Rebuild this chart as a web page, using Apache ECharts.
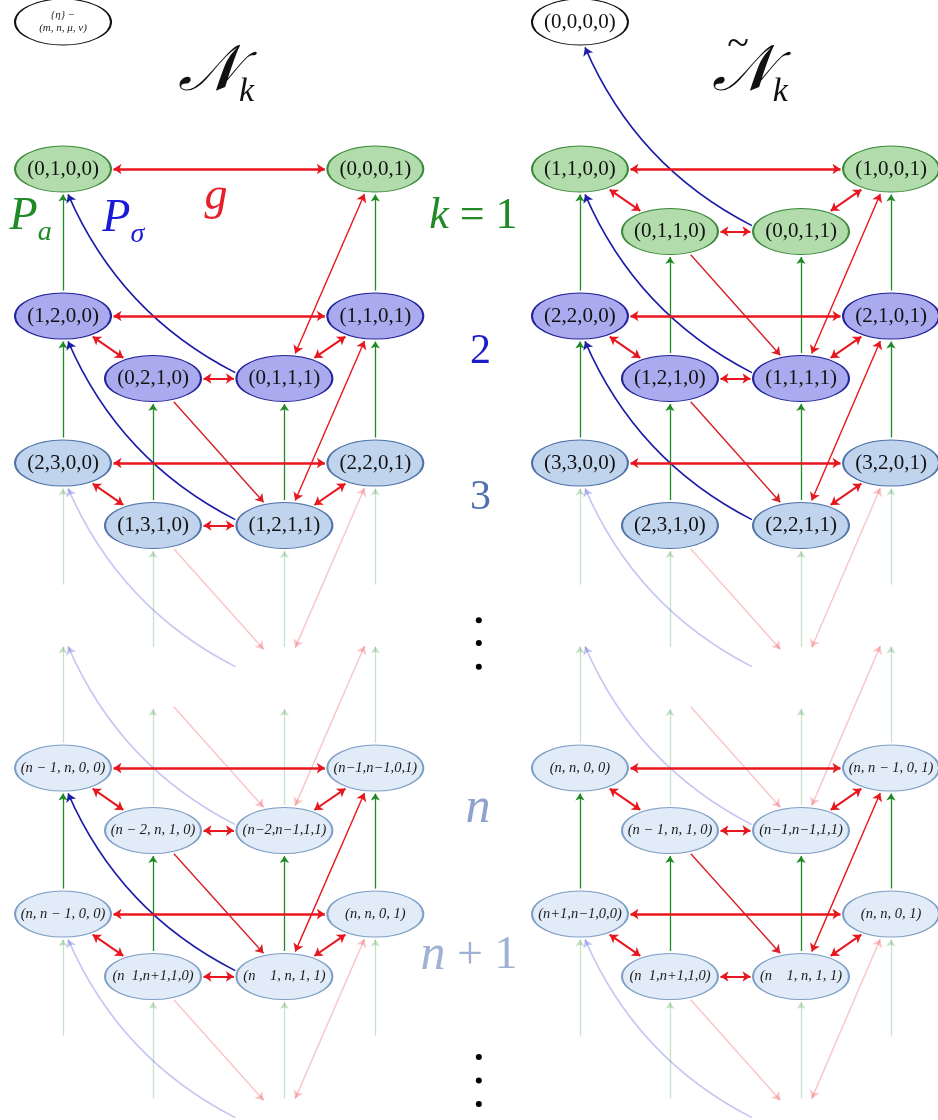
<!DOCTYPE html>
<html><head><meta charset="utf-8">
<script src="https://cdn.jsdelivr.net/npm/echarts@6/dist/echarts.min.js"></script>
<style>html,body{margin:0;padding:0;background:#fff}#chart{width:938px;height:1120px}</style>
</head><body><div id="chart"></div>
<script>
// ---------------- data ----------------
// column positions (abstract layout units) for the two panels
const COLS_LEFT = [0, 1, 2.46, 3.47];
const COLS_RIGHT = [5.744, 6.744, 8.2, 9.2];
// row levels (k = 0,1,2,3, ghost 4, ghost n-1, n, n+1, ghost n+2)
const ROW_LEVELS = { '0': 0, '1': 1, '2': 2, '3': 3, '4': 4, 'm': 4.075, 'n': 5.075, 'p': 6.068, 'q': 7.068 };
const INNER_DROP = 0.425;
const COL_KEYS = ['a', 'b', 'c', 'd'];

const LEFT_NODES = {
  '1': ['(0,1,0,0)', null, null, '(0,0,0,1)'],
  '2': ['(1,2,0,0)', '(0,2,1,0)', '(0,1,1,1)', '(1,1,0,1)'],
  '3': ['(2,3,0,0)', '(1,3,1,0)', '(1,2,1,1)', '(2,2,0,1)'],
  'n': ['(n − 1, n, 0, 0)', '(n − 2, n, 1, 0)', '(n−2,n−1,1,1)', '(n−1,n−1,0,1)'],
  'p': ['(n, n − 1, 0, 0)', '(n  1,n+1,1,0)', '(n    1, n, 1, 1)', '(n, n, 0, 1)']
};
const RIGHT_NODES = {
  '0': ['(0,0,0,0)', null, null, null],
  '1': ['(1,1,0,0)', '(0,1,1,0)', '(0,0,1,1)', '(1,0,0,1)'],
  '2': ['(2,2,0,0)', '(1,2,1,0)', '(1,1,1,1)', '(2,1,0,1)'],
  '3': ['(3,3,0,0)', '(2,3,1,0)', '(2,2,1,1)', '(3,2,0,1)'],
  'n': ['(n, n, 0, 0)', '(n − 1, n, 1, 0)', '(n−1,n−1,1,1)', '(n, n − 1, 0, 1)'],
  'p': ['(n+1,n−1,0,0)', '(n  1,n+1,1,0)', '(n    1, n, 1, 1)', '(n, n, 0, 1)']
};
const LEGEND_NODE = '{η} −\n(m, n, μ, ν)';
const GHOST_ROWS = ['4', 'm', 'q'];

// P_a (green, vertical): [lowerRow, upperRow, columns]
const PA_EDGES = {
  L: [['2', '1', 'ad'], ['3', '2', 'abcd'], ['4', '3', 'abcd'], ['n', 'm', 'abcd'], ['p', 'n', 'abcd'], ['q', 'p', 'abcd']],
  R: [['2', '1', 'abcd'], ['3', '2', 'abcd'], ['4', '3', 'abcd'], ['n', 'm', 'abcd'], ['p', 'n', 'abcd'], ['q', 'p', 'abcd']]
};
// P_sigma (blue curves): inner-right of row r1  ->  outer-left of row r2
const PSIGMA_EDGES = {
  L: [['2', '1'], ['3', '2'], ['4', '3'], ['n', 'm'], ['p', 'n'], ['q', 'p']],
  R: [['1', '0'], ['2', '1'], ['3', '2'], ['4', '3'], ['n', 'm'], ['q', 'p']]
};
// g (red) couplings
const G_OUTER = { L: ['1', '2', '3', 'n', 'p'], R: ['1', '2', '3', 'n', 'p'] };        // a <-> d
const G_LEFT_DIAG = { L: ['2', '3', 'n', 'p'], R: ['1', '2', 'n', 'p'] };             // a <-> b
const G_INNER = { L: ['2', '3', 'n', 'p'], R: ['1', '2', 'n', 'p'] };                 // b <-> c
const G_RIGHT_DIAG = { L: ['2', '3', 'n', 'p'], R: ['1', '2', '3', 'n', 'p'] };       // c <-> d
const G_CROSS = { // b of row r1  ->  c of row r2
  L: [['2', '3'], ['3', '4'], ['m', 'n'], ['n', 'p'], ['p', 'q']],
  R: [['1', '2'], ['2', '3'], ['3', '4'], ['m', 'n'], ['n', 'p'], ['p', 'q']]
};
const G_LONG = { // c of row r1  <->  d of row r2
  L: [['2', '1'], ['3', '2'], ['4', '3'], ['n', 'm'], ['p', 'n'], ['q', 'p']],
  R: [['2', '1'], ['3', '2'], ['4', '3'], ['n', 'm'], ['p', 'n'], ['q', 'p']]
};

// ---------------- layout / style ----------------
const SERIF = "'Liberation Serif','DejaVu Serif',serif";
const ROW_STYLE = {
  '0': { fill: '#ffffff', stroke: '#111111' },
  '1': { fill: '#b3dcac', stroke: '#3b8a3b' },
  '2': { fill: '#aaabee', stroke: '#22229a' },
  '3': { fill: '#c0d4ee', stroke: '#4f72a8' },
  'n': { fill: '#e2ecf8', stroke: '#7f9fc6' },
  'p': { fill: '#e2ecf8', stroke: '#7f9fc6' }
};
const GREEN = '#1f8a26', GREEN_F = 'rgba(31,138,38,0.25)';
const BLUE = '#1c1ca8', BLUE_F = 'rgba(50,50,210,0.28)';
const RED = '#e8161e', RED_F = 'rgba(232,22,30,0.25)';
const ELLIPSE = 'path://M0 25A50 25 0 1 1 100 25A50 25 0 1 1 0 25Z';
const RX = 48, RY = 23, GAP = 2.5;

const COLS = { L: COLS_LEFT, R: COLS_RIGHT };
const NODES = {};
function addPanel(panel, rows) {
  Object.keys(rows).forEach(r => rows[r].forEach((lab, ci) => {
    if (lab === null) return;
    NODES[panel + r + COL_KEYS[ci]] = { row: r, label: lab, ghost: false,
      x: COLS[panel][ci], y: ROW_LEVELS[r] + ((ci === 1 || ci === 2) ? INNER_DROP : 0) };
  }));
  GHOST_ROWS.forEach(r => COL_KEYS.forEach((k, ci) => {
    NODES[panel + r + k] = { row: r, ghost: true,
      x: COLS[panel][ci], y: ROW_LEVELS[r] + ((ci === 1 || ci === 2) ? INNER_DROP : 0) };
  }));
}
addPanel('L', LEFT_NODES);
addPanel('R', RIGHT_NODES);
NODES['L0a'] = { row: '0', label: LEGEND_NODE, ghost: false, legend: true, x: COLS_LEFT[0], y: ROW_LEVELS['0'] };

const nodeData = Object.keys(NODES).filter(id => !NODES[id].ghost).map(id => {
  const n = NODES[id];
  const st = ROW_STYLE[n.row];
  const small = (n.row === 'n' || n.row === 'p');
  return {
    name: n.label, value: [n.x, n.y],
    itemStyle: { color: st.fill, borderColor: st.stroke, borderWidth: 1.4, opacity: 1 },
    label: n.legend ? { fontSize: 11, fontStyle: 'italic', lineHeight: 13, color: '#222' }
      : small ? { fontSize: 14.5, fontStyle: 'italic', color: '#1a1a1a' }
      : { fontSize: 21, color: '#111' }
  };
});

// annotations: [richText, x, y]
const ANNOT = [
  ['{m|𝒩}{s|k}', 1.70, 0.36],
  ['{m|𝒩}{s|k}', 7.63, 0.36],
  ['{t|~}', 7.50, 0.16],
  ['{pg|P}{sg|a}', -0.36, 1.35],
  ['{pb|P}{sb|σ}', 0.67, 1.36],
  ['{r|g}', 1.70, 1.19],
  ['{gk|k}{gn| = 1}', 4.56, 1.32],
  ['{b2|2}', 4.64, 2.245],
  ['{b3|3}', 4.64, 3.24],
  ['{ln|n}', 4.61, 5.35],
  ['{ln2|n}{lp| + 1}', 4.51, 6.35]
];
const DOTS = [[4.62, 4.07], [4.62, 4.225], [4.62, 4.385], [4.62, 7.04], [4.62, 7.2], [4.62, 7.36]];

const RICH = {
  m: { fontFamily: SERIF, fontSize: 64, fontStyle: 'italic', color: '#111', verticalAlign: 'bottom', padding: [0, 0, 4, 0] },
  s: { fontFamily: SERIF, fontSize: 34, fontStyle: 'italic', color: '#111', verticalAlign: 'bottom' },
  t: { fontFamily: SERIF, fontSize: 40, color: '#111' },
  pg: { fontFamily: SERIF, fontSize: 46, fontStyle: 'italic', color: GREEN, verticalAlign: 'bottom', padding: [0, 0, 7, 0] },
  sg: { fontFamily: SERIF, fontSize: 28, fontStyle: 'italic', color: GREEN, verticalAlign: 'bottom' },
  pb: { fontFamily: SERIF, fontSize: 46, fontStyle: 'italic', color: '#1a1ad8', verticalAlign: 'bottom', padding: [0, 0, 7, 0] },
  sb: { fontFamily: SERIF, fontSize: 28, fontStyle: 'italic', color: '#1a1ad8', verticalAlign: 'bottom' },
  r: { fontFamily: SERIF, fontSize: 46, fontStyle: 'italic', color: '#e5202a' },
  gk: { fontFamily: SERIF, fontSize: 44, fontStyle: 'italic', color: GREEN },
  gn: { fontFamily: SERIF, fontSize: 44, color: GREEN },
  b2: { fontFamily: SERIF, fontSize: 42, color: '#1c1cc8' },
  b3: { fontFamily: SERIF, fontSize: 42, color: '#4f70b0' },
  ln: { fontFamily: SERIF, fontSize: 50, fontStyle: 'italic', color: '#8ea2cc' },
  ln2: { fontFamily: SERIF, fontSize: 50, fontStyle: 'italic', color: '#a0b2d4' },
  lp: { fontFamily: SERIF, fontSize: 46, color: '#a0b2d4' }
};

const chart = echarts.init(document.getElementById('chart'), null, { renderer: 'canvas' });
const baseOption = {
  animation: false,
  backgroundColor: '#ffffff',
  grid: { left: 0, right: 0, top: 0, bottom: 0 },
  xAxis: { type: 'value', min: -0.7, max: 9.722, show: false },
  yAxis: { type: 'value', inverse: true, min: -0.1497, max: 7.469, show: false },
  series: [
    { id: 'nodes', type: 'scatter', z: 5, symbol: ELLIPSE, symbolSize: [96, 46], clip: false,
      itemStyle: { opacity: 1 },
      label: { show: true, position: 'inside', fontFamily: SERIF, formatter: p => p.name },
      data: nodeData },
    { id: 'annot', type: 'scatter', z: 6, symbolSize: 1, clip: false,
      itemStyle: { color: 'rgba(0,0,0,0)', opacity: 1 },
      label: { show: true, position: 'inside', rich: RICH, opacity: 1, formatter: p => p.data.txt },
      data: ANNOT.map(a => ({ value: [a[1], a[2]], txt: a[0] })) },
    { id: 'dots', type: 'scatter', z: 6, symbol: 'circle', symbolSize: 6, clip: false,
      itemStyle: { color: '#000', opacity: 1 }, data: DOTS }
  ]
};
chart.setOption(baseOption);

// ---------------- edges (endpoints on ellipse outlines, via the axes' scales) ----------------
const toPx = id => chart.convertToPixel({ gridIndex: 0 }, [NODES[id].x, NODES[id].y]);
const toData = p => chart.convertFromPixel({ gridIndex: 0 }, p);
function onEllipse(c, dx, dy) {
  const t = 1 / Math.sqrt(Math.pow(dx / (RX + GAP), 2) + Math.pow(dy / (RY + GAP), 2));
  return [c[0] + dx * t, c[1] + dy * t];
}
function straight(a, b) {
  const ca = toPx(a), cb = toPx(b);
  const dx = cb[0] - ca[0], dy = cb[1] - ca[1];
  return [toData(onEllipse(ca, dx, dy)), toData(onEllipse(cb, -dx, -dy))];
}
function curved(a, b) {
  return [toData(onEllipse(toPx(a), -1, -0.12)), toData(onEllipse(toPx(b), 0.2, 1))];
}
const isGhost = (a, b) => NODES[a].ghost || NODES[b].ghost;

const greenData = [], blueData = [], redDouble = [], redSingle = [];
['L', 'R'].forEach(P => {
  PA_EDGES[P].forEach(([r1, r2, cols]) => cols.split('').forEach(k => {
    const a = P + r1 + k, b = P + r2 + k;
    greenData.push({ coords: straight(a, b), lineStyle: { color: isGhost(a, b) ? GREEN_F : GREEN } });
  }));
  PSIGMA_EDGES[P].forEach(([r1, r2]) => {
    const a = P + r1 + 'c', b = P + r2 + 'a';
    blueData.push({ coords: curved(a, b), lineStyle: { color: isGhost(a, b) ? BLUE_F : BLUE, curveness: 0.18 } });
  });
  const dbl = (a, b, w) => redDouble.push({ coords: straight(a, b), lineStyle: { color: isGhost(a, b) ? RED_F : RED, width: w } });
  G_OUTER[P].forEach(r => dbl(P + r + 'a', P + r + 'd', 2.6));
  G_LEFT_DIAG[P].forEach(r => dbl(P + r + 'a', P + r + 'b', 2));
  G_INNER[P].forEach(r => dbl(P + r + 'b', P + r + 'c', 2));
  G_RIGHT_DIAG[P].forEach(r => dbl(P + r + 'c', P + r + 'd', 2));
  G_LONG[P].forEach(([r1, r2]) => dbl(P + r1 + 'c', P + r2 + 'd', 1.4));
  G_CROSS[P].forEach(([r1, r2]) => {
    const a = P + r1 + 'b', b = P + r2 + 'c';
    redSingle.push({ coords: straight(a, b), lineStyle: { color: isGhost(a, b) ? RED_F : '#d8202a', width: 1.4 } });
  });
});

chart.setOption({
  series: [
    { id: 'green', type: 'lines', coordinateSystem: 'cartesian2d', z: 2, symbol: ['none', 'arrow'], symbolSize: 7,
      lineStyle: { width: 1.3, opacity: 1 }, data: greenData },
    { id: 'blue', type: 'lines', coordinateSystem: 'cartesian2d', z: 2, symbol: ['none', 'arrow'], symbolSize: 8,
      lineStyle: { width: 1.6, opacity: 1 }, data: blueData },
    { id: 'redD', type: 'lines', coordinateSystem: 'cartesian2d', z: 3, symbol: ['arrow', 'arrow'], symbolSize: 8,
      lineStyle: { opacity: 1 }, data: redDouble },
    { id: 'redS', type: 'lines', coordinateSystem: 'cartesian2d', z: 3, symbol: ['none', 'arrow'], symbolSize: 8,
      lineStyle: { opacity: 1 }, data: redSingle }
  ]
});
</script>
</body></html>
